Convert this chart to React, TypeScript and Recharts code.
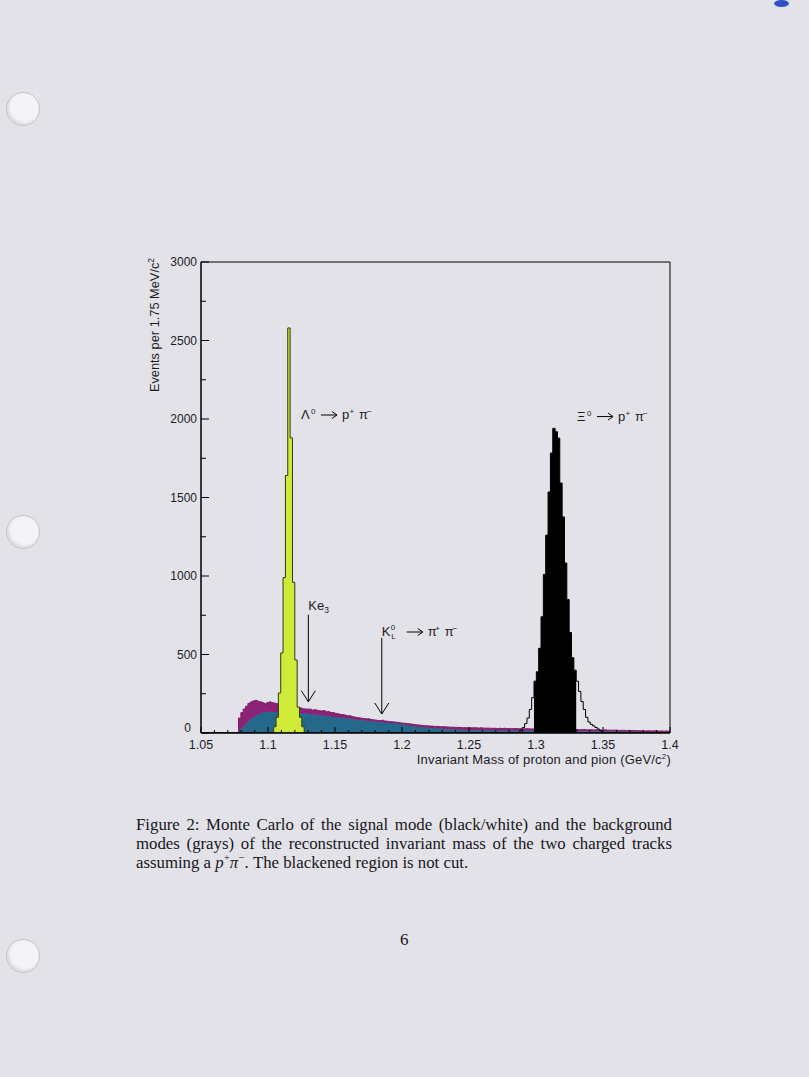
import { AreaChart, Area, XAxis, YAxis, ReferenceArea, ReferenceDot } from 'recharts';

// histogram binning: 1.75 MeV/c^2 bins from 1.05 to 1.4 GeV/c^2
const MASS_MIN = 1.05;
const MASS_MAX = 1.4;
const BIN_WIDTH = 0.00175;

const xTickLabels = ['1.05', '1.1', '1.15', '1.2', '1.25', '1.3', '1.35', '1.4'];
const yTickLabels = ['0', '500', '1000', '1500', '2000', '2500', '3000'];

// background, lower band (blue), one value per bin
const blueCounts = [
  0, 0, 0, 0, 0, 0, 0, 0, 0, 0,
  0, 0, 0, 0, 0, 0, 15, 30, 48, 62,
  78, 92, 100, 110, 118, 126, 132, 134, 133, 136,
  135, 134, 132, 133, 130, 131, 130, 128, 128, 127,
  126, 125, 126, 124, 125, 122, 118, 120, 116, 117,
  112, 114, 110, 108, 106, 104, 102, 100, 98, 96,
  97, 94, 92, 90, 88, 86, 84, 83, 82, 80,
  78, 76, 74, 72, 71, 70, 68, 69, 66, 65,
  64, 63, 62, 60, 58, 55, 52, 50, 47, 45,
  43, 41, 39, 38, 36, 34, 33, 32, 31, 30,
  29, 28, 27, 26, 25, 24, 24, 23, 22, 21,
  20, 20, 19, 19, 18, 19, 18, 18, 17, 18,
  17, 17, 16, 17, 16, 16, 15, 16, 15, 16,
  15, 15, 14, 15, 15, 14, 14, 15, 14, 14,
  14, 13, 14, 13, 13, 12, 13, 12, 12, 13,
  12, 12, 11, 12, 12, 11, 12, 11, 11, 11,
  11, 10, 11, 11, 10, 10, 11, 10, 10, 10,
  10, 9, 10, 9, 9, 10, 9, 9, 8, 9,
  9, 8, 8, 9, 8, 8, 8, 7, 8, 7,
  7, 8, 7, 7, 7, 6, 7, 6, 7, 6,
];

// background, upper band (magenta), stacked on the blue one
const magentaCounts = [
  0, 0, 0, 0, 0, 0, 0, 0, 0, 0,
  0, 0, 0, 0, 0, 0, 80, 100, 105, 108,
  110, 106, 104, 98, 84, 72, 60, 52, 60, 62,
  58, 56, 55, 52, 52, 50, 48, 48, 46, 44,
  40, 38, 34, 30, 28, 30, 34, 26, 32, 28,
  30, 26, 32, 28, 30, 26, 28, 24, 24, 22,
  20, 20, 18, 20, 16, 16, 14, 14, 12, 12,
  12, 14, 12, 12, 11, 10, 10, 12, 10, 10,
  8, 8, 8, 8, 8, 9, 10, 11, 12, 12,
  12, 12, 12, 12, 12, 12, 13, 12, 13, 12,
  13, 13, 13, 14, 14, 14, 13, 14, 14, 15,
  15, 14, 15, 14, 15, 14, 15, 15, 14, 15,
  14, 14, 15, 13, 14, 14, 13, 14, 13, 14,
  13, 14, 13, 13, 14, 13, 13, 12, 13, 13,
  12, 13, 12, 12, 13, 12, 12, 11, 12, 12,
  11, 12, 11, 11, 12, 11, 11, 11, 10, 11,
  11, 10, 10, 11, 10, 10, 10, 9, 10, 10,
  9, 9, 10, 9, 9, 8, 9, 9, 8, 8,
  8, 8, 8, 7, 8, 7, 7, 7, 7, 6,
  7, 6, 6, 7, 6, 6, 6, 5, 6, 5,
];

// Lambda0 -> p+ pi- peak
const LAMBDA_FIRST_BIN = 31;
const lambdaCounts = [40, 100, 255, 510, 990, 1640, 2580, 1880, 960, 465, 165, 100, 40];

// Xi0 -> p+ pi- signal
const XI_FIRST_BIN = 136;
const xiCounts = [
  20, 35, 60, 95, 150, 225, 330, 390, 540, 740,
  1010, 1260, 1535, 1783, 1940, 1919, 1878, 1592, 1376, 1083,
  850, 640, 480, 400, 330, 265, 200, 150, 100, 70,
  55, 45, 35, 25, 15,
];
// blackened (not cut) bins
const XI_CUT_FIRST_BIN = 142;
const XI_CUT_LAST_BIN = 159;

const rows = blueCounts.map((blue, i) => {
  const xi = xiCounts[i - XI_FIRST_BIN] ?? 0;
  return {
    x: MASS_MIN + i * BIN_WIDTH,
    blue,
    magenta: magentaCounts[i],
    lambda: lambdaCounts[i - LAMBDA_FIRST_BIN] ?? 0,
    xi,
    xiCut: i >= XI_CUT_FIRST_BIN && i <= XI_CUT_LAST_BIN ? xi : 0,
  };
});
rows.push({ ...rows[rows.length - 1], x: MASS_MAX });

const xTicks = Array.from({ length: 36 }, (_, k) => +(MASS_MIN + k * 0.01).toFixed(4));
const yTicks = Array.from({ length: 13 }, (_, k) => k * 250);

const PAGE = '#e3e2e9';
const INK = '#1c1c1f';
const SANS = '"Liberation Sans", Arial, sans-serif';
const SERIF = '"Liberation Serif", "Times New Roman", serif';

function XTick(props: any) {
  const { x, y, payload } = props;
  const k = Math.round((payload.value - MASS_MIN) / 0.01);
  const major = k % 5 === 0;
  return (
    <g>
      <line x1={x} x2={x} y1={y} y2={y - (major ? 6 : 3)} stroke="#000" strokeWidth={1} />
      {major && (
        <text x={x} y={y + 16} textAnchor="middle" fontSize={12.5} fontFamily={SANS} fill={INK}>
          {xTickLabels[k / 5]}
        </text>
      )}
    </g>
  );
}

function YTick(props: any) {
  const { x, y, payload } = props;
  const v = payload.value;
  const major = v % 500 === 0;
  const isZero = v === 0;
  return (
    <g>
      <line x1={x} x2={x + (major ? 8 : 5)} y1={y} y2={y} stroke="#000" strokeWidth={1} />
      {major && (
        <text
          x={isZero ? x - 10 : x - 4}
          y={isZero ? y - 1 : y + 4}
          textAnchor="end"
          fontSize={12}
          fontFamily={SANS}
          fill={INK}
        >
          {yTickLabels[v / 500]}
        </text>
      )}
    </g>
  );
}

const ANN = { fontSize: 13, fontFamily: SANS, fill: INK } as const;

function DownArrow({ cx, cy, length }: { cx: number; cy: number; length: number }) {
  return (
    <g stroke="#000" strokeWidth={1} fill="none">
      <line x1={cx} x2={cx} y1={cy - length} y2={cy} />
      <polyline points={`${cx - 7},${cy - 11} ${cx},${cy} ${cx + 7},${cy - 11}`} />
    </g>
  );
}

// horizontal "->" used inside the decay labels
function RightArrow({ x, y }: { x: number; y: number }) {
  return (
    <g stroke="#000" strokeWidth={1} fill="none">
      <line x1={x} x2={x + 16} y1={y} y2={y} />
      <polyline points={`${x + 11},${y - 3.5} ${x + 16},${y} ${x + 11},${y + 3.5}`} />
    </g>
  );
}

function PiPair({ x, y, first, second }: { x: number; y: number; first: string; second: string }) {
  return (
    <g>
      <text x={x} y={y} {...ANN}>{first}</text>
      <text x={x + 7.5} y={y - 5} {...ANN} fontSize={8}>{'+'}</text>
      <text x={x + 17} y={y} {...ANN}>{second}</text>
      <text x={x + 25} y={y - 5} {...ANN} fontSize={8}>{'\u2212'}</text>
    </g>
  );
}

function Ke3Shape(props: any) {
  const { cx, cy } = props;
  return (
    <g>
      <DownArrow cx={cx} cy={cy} length={87} />
      <text x={cx} y={cy - 92} {...ANN}>Ke</text>
      <text x={cx + 16} y={cy - 89} {...ANN} fontSize={8.5}>3</text>
    </g>
  );
}

function KlShape(props: any) {
  const { cx, cy } = props;
  const base = cy - 78;
  return (
    <g>
      <DownArrow cx={cx} cy={cy} length={76} />
      <text x={cx} y={base} {...ANN}>K</text>
      <text x={cx + 9} y={base - 6} {...ANN} fontSize={8}>0</text>
      <text x={cx + 9.5} y={base + 3} {...ANN} fontSize={8}>L</text>
      <RightArrow x={cx + 25} y={base - 4} />
      <PiPair x={cx + 46} y={base} first={'\u03c0'} second={'\u03c0'} />
    </g>
  );
}

function DecayLabel(props: any) {
  const { cx, cy, head } = props;
  return (
    <g>
      <text x={cx} y={cy} {...ANN}>{head}</text>
      <text x={cx + 10} y={cy - 5} {...ANN} fontSize={8}>0</text>
      <RightArrow x={cx + 20} y={cy - 4} />
      <PiPair x={cx + 41} y={cy} first="p" second={'\u03c0'} />
    </g>
  );
}

function Hole({ top }: { top: number }) {
  return (
    <div
      style={{
        position: 'absolute',
        left: 6,
        top: top - 16,
        width: 32,
        height: 32,
        borderRadius: '50%',
        background: '#f4f4f6',
        border: '1px solid #c2c2c8',
        boxShadow: 'inset 2px -2px 3px rgba(0,0,0,0.10)',
      }}
    />
  );
}

export default function App() {
  return (
    <div
      style={{
        position: 'absolute',
        left: 0,
        top: 0,
        width: 809,
        height: 1077,
        background: PAGE,
        overflow: 'hidden',
        fontFamily: SANS,
      }}
    >
      <Hole top={108} />
      <Hole top={531} />
      <Hole top={955} />
      <div
        style={{
          position: 'absolute',
          left: 774,
          top: 0,
          width: 15,
          height: 7,
          borderRadius: '50%',
          background: '#2f4fc4',
        }}
      />

      <div style={{ position: 'absolute', left: 120, top: 240 }}>
        <AreaChart
          width={580}
          height={540}
          data={rows}
          margin={{ top: 22, right: 30, left: 21, bottom: 7 }}
        >
          <XAxis
            dataKey="x"
            type="number"
            domain={[MASS_MIN, MASS_MAX]}
            allowDataOverflow
            ticks={xTicks}
            interval={0}
            tick={XTick}
            tickLine={false}
            tickSize={0}
            tickMargin={0}
            axisLine={{ stroke: '#000' }}
            height={40}
          />
          <YAxis
            type="number"
            domain={[0, 3000]}
            allowDataOverflow
            ticks={yTicks}
            interval={0}
            tick={YTick}
            tickLine={false}
            tickSize={0}
            tickMargin={0}
            axisLine={{ stroke: '#000' }}
            width={60}
          />
          <Area
            type="stepAfter"
            dataKey="blue"
            stackId="bg"
            fill="#24688b"
            fillOpacity={1}
            stroke="#24688b"
            strokeWidth={1}
            dot={false}
            activeDot={false}
            isAnimationActive={false}
          />
          <Area
            type="stepAfter"
            dataKey="magenta"
            stackId="bg"
            fill="#8c2274"
            fillOpacity={1}
            stroke="#7a1c66"
            strokeWidth={1}
            dot={false}
            activeDot={false}
            isAnimationActive={false}
          />
          <Area
            type="stepAfter"
            dataKey="lambda"
            fill="#d0ea38"
            fillOpacity={1}
            stroke="#2e3a18"
            strokeWidth={1}
            dot={false}
            activeDot={false}
            isAnimationActive={false}
          />
          <Area
            type="stepAfter"
            dataKey="xiCut"
            fill="#000"
            fillOpacity={1}
            stroke="none"
            dot={false}
            activeDot={false}
            isAnimationActive={false}
          />
          <Area
            type="stepAfter"
            dataKey="xi"
            fill="none"
            stroke="#000"
            strokeWidth={1}
            dot={false}
            activeDot={false}
            isAnimationActive={false}
          />
          <ReferenceArea
            x1={MASS_MIN}
            x2={MASS_MAX}
            y1={0}
            y2={3000}
            fill="none"
            stroke="#000"
            strokeWidth={1}
            ifOverflow="visible"
          />
          <ReferenceDot x={1.1301} y={199} r={1} shape={Ke3Shape} ifOverflow="visible" />
          <ReferenceDot x={1.1849} y={121} r={1} shape={KlShape} ifOverflow="visible" />
          <ReferenceDot
            x={1.1246}
            y={2000}
            r={1}
            shape={(p: any) => <DecayLabel {...p} head={'\u039b'} />}
            ifOverflow="visible"
          />
          <ReferenceDot
            x={1.3306}
            y={1990}
            r={1}
            shape={(p: any) => <DecayLabel {...p} head={'\u039e'} />}
            ifOverflow="visible"
          />
        </AreaChart>
      </div>

      <div
        style={{
          position: 'absolute',
          left: 154,
          top: 325,
          transform: 'translate(-50%, -50%) rotate(-90deg)',
          whiteSpace: 'nowrap',
          fontSize: 12.8,
          color: INK,
        }}
      >
        Events per 1.75 MeV/c<sup style={{ fontSize: 8.5 }}>2</sup>
      </div>
      <div
        style={{
          position: 'absolute',
          right: 809 - 671,
          top: 752,
          whiteSpace: 'nowrap',
          fontSize: 13,
          letterSpacing: 0.2,
          color: INK,
        }}
      >
        Invariant Mass of proton and pion (GeV/c<sup style={{ fontSize: 8 }}>2</sup>)
      </div>

      <div
        style={{
          position: 'absolute',
          left: 136,
          top: 815,
          width: 536,
          fontFamily: SERIF,
          fontSize: 16.8,
          lineHeight: '19px',
          color: '#17171a',
        }}
      >
        <div style={{ textAlign: 'justify', textAlignLast: 'justify', whiteSpace: 'nowrap' }}>
          Figure 2: Monte Carlo of the signal mode (black/white) and the background
        </div>
        <div style={{ textAlign: 'justify', textAlignLast: 'justify', whiteSpace: 'nowrap' }}>
          modes (grays) of the reconstructed invariant mass of the two charged tracks
        </div>
        <div style={{ whiteSpace: 'nowrap' }}>
          assuming a <i>p</i>
          <sup style={{ fontSize: 11, lineHeight: 0 }}>+</sup>
          <i>π</i>
          <sup style={{ fontSize: 11, lineHeight: 0 }}>−</sup>. The blackened region is not cut.
        </div>
      </div>

      <div
        style={{
          position: 'absolute',
          left: 400,
          top: 930,
          fontFamily: SERIF,
          fontSize: 17,
          color: '#17171a',
        }}
      >
        6
      </div>
    </div>
  );
}
